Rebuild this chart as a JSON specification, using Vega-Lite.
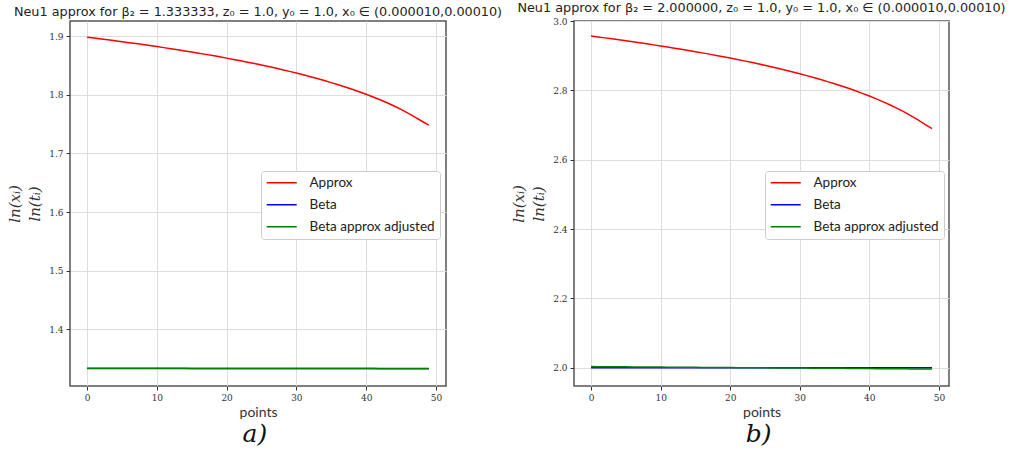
{
  "$schema": "https://vega.github.io/schema/vega-lite/v6.json",
  "background": "white",
  "padding": {"left": 6, "top": 1, "right": 0, "bottom": 5},
  "datasets": {
    "a": [
      {"x":0,"approx":1.8980,"beta":1.333333,"adj":1.3336},
      {"x":1,"approx":1.8965,"beta":1.333333,"adj":1.3336},
      {"x":2,"approx":1.8950,"beta":1.333333,"adj":1.3336},
      {"x":3,"approx":1.8935,"beta":1.333333,"adj":1.3336},
      {"x":4,"approx":1.8919,"beta":1.333333,"adj":1.3336},
      {"x":5,"approx":1.8903,"beta":1.333333,"adj":1.3336},
      {"x":6,"approx":1.8887,"beta":1.333333,"adj":1.3336},
      {"x":7,"approx":1.8871,"beta":1.333333,"adj":1.3335},
      {"x":8,"approx":1.8854,"beta":1.333333,"adj":1.3335},
      {"x":9,"approx":1.8837,"beta":1.333333,"adj":1.3335},
      {"x":10,"approx":1.8820,"beta":1.333333,"adj":1.3335},
      {"x":11,"approx":1.8802,"beta":1.333333,"adj":1.3335},
      {"x":12,"approx":1.8784,"beta":1.333333,"adj":1.3335},
      {"x":13,"approx":1.8765,"beta":1.333333,"adj":1.3335},
      {"x":14,"approx":1.8746,"beta":1.333333,"adj":1.3335},
      {"x":15,"approx":1.8727,"beta":1.333333,"adj":1.3334},
      {"x":16,"approx":1.8707,"beta":1.333333,"adj":1.3334},
      {"x":17,"approx":1.8687,"beta":1.333333,"adj":1.3334},
      {"x":18,"approx":1.8666,"beta":1.333333,"adj":1.3334},
      {"x":19,"approx":1.8645,"beta":1.333333,"adj":1.3334},
      {"x":20,"approx":1.8623,"beta":1.333333,"adj":1.3334},
      {"x":21,"approx":1.8600,"beta":1.333333,"adj":1.3334},
      {"x":22,"approx":1.8577,"beta":1.333333,"adj":1.3333},
      {"x":23,"approx":1.8554,"beta":1.333333,"adj":1.3333},
      {"x":24,"approx":1.8530,"beta":1.333333,"adj":1.3333},
      {"x":25,"approx":1.8505,"beta":1.333333,"adj":1.3333},
      {"x":26,"approx":1.8479,"beta":1.333333,"adj":1.3333},
      {"x":27,"approx":1.8453,"beta":1.333333,"adj":1.3333},
      {"x":28,"approx":1.8425,"beta":1.333333,"adj":1.3332},
      {"x":29,"approx":1.8397,"beta":1.333333,"adj":1.3332},
      {"x":30,"approx":1.8368,"beta":1.333333,"adj":1.3332},
      {"x":31,"approx":1.8338,"beta":1.333333,"adj":1.3332},
      {"x":32,"approx":1.8307,"beta":1.333333,"adj":1.3332},
      {"x":33,"approx":1.8275,"beta":1.333333,"adj":1.3332},
      {"x":34,"approx":1.8241,"beta":1.333333,"adj":1.3332},
      {"x":35,"approx":1.8206,"beta":1.333333,"adj":1.3331},
      {"x":36,"approx":1.8170,"beta":1.333333,"adj":1.3331},
      {"x":37,"approx":1.8132,"beta":1.333333,"adj":1.3331},
      {"x":38,"approx":1.8092,"beta":1.333333,"adj":1.3331},
      {"x":39,"approx":1.8051,"beta":1.333333,"adj":1.3331},
      {"x":40,"approx":1.8007,"beta":1.333333,"adj":1.3331},
      {"x":41,"approx":1.7961,"beta":1.333333,"adj":1.3331},
      {"x":42,"approx":1.7913,"beta":1.333333,"adj":1.3330},
      {"x":43,"approx":1.7862,"beta":1.333333,"adj":1.3330},
      {"x":44,"approx":1.7807,"beta":1.333333,"adj":1.3330},
      {"x":45,"approx":1.7749,"beta":1.333333,"adj":1.3330},
      {"x":46,"approx":1.7687,"beta":1.333333,"adj":1.3330},
      {"x":47,"approx":1.7619,"beta":1.333333,"adj":1.3330},
      {"x":48,"approx":1.7547,"beta":1.333333,"adj":1.3330},
      {"x":49,"approx":1.7480,"beta":1.333333,"adj":1.3330}
    ],
    "b": [
      {"x":0,"approx":2.9570,"beta":2.0,"adj":2.0030},
      {"x":1,"approx":2.9544,"beta":2.0,"adj":2.0029},
      {"x":2,"approx":2.9517,"beta":2.0,"adj":2.0027},
      {"x":3,"approx":2.9490,"beta":2.0,"adj":2.0026},
      {"x":4,"approx":2.9462,"beta":2.0,"adj":2.0024},
      {"x":5,"approx":2.9434,"beta":2.0,"adj":2.0023},
      {"x":6,"approx":2.9405,"beta":2.0,"adj":2.0021},
      {"x":7,"approx":2.9376,"beta":2.0,"adj":2.0020},
      {"x":8,"approx":2.9346,"beta":2.0,"adj":2.0019},
      {"x":9,"approx":2.9315,"beta":2.0,"adj":2.0017},
      {"x":10,"approx":2.9284,"beta":2.0,"adj":2.0016},
      {"x":11,"approx":2.9253,"beta":2.0,"adj":2.0014},
      {"x":12,"approx":2.9220,"beta":2.0,"adj":2.0013},
      {"x":13,"approx":2.9187,"beta":2.0,"adj":2.0011},
      {"x":14,"approx":2.9154,"beta":2.0,"adj":2.0010},
      {"x":15,"approx":2.9119,"beta":2.0,"adj":2.0009},
      {"x":16,"approx":2.9084,"beta":2.0,"adj":2.0007},
      {"x":17,"approx":2.9048,"beta":2.0,"adj":2.0006},
      {"x":18,"approx":2.9011,"beta":2.0,"adj":2.0004},
      {"x":19,"approx":2.8973,"beta":2.0,"adj":2.0003},
      {"x":20,"approx":2.8934,"beta":2.0,"adj":2.0001},
      {"x":21,"approx":2.8894,"beta":2.0,"adj":2.0000},
      {"x":22,"approx":2.8853,"beta":2.0,"adj":1.9999},
      {"x":23,"approx":2.8811,"beta":2.0,"adj":1.9997},
      {"x":24,"approx":2.8768,"beta":2.0,"adj":1.9996},
      {"x":25,"approx":2.8724,"beta":2.0,"adj":1.9994},
      {"x":26,"approx":2.8678,"beta":2.0,"adj":1.9993},
      {"x":27,"approx":2.8631,"beta":2.0,"adj":1.9991},
      {"x":28,"approx":2.8583,"beta":2.0,"adj":1.9990},
      {"x":29,"approx":2.8533,"beta":2.0,"adj":1.9989},
      {"x":30,"approx":2.8481,"beta":2.0,"adj":1.9987},
      {"x":31,"approx":2.8427,"beta":2.0,"adj":1.9986},
      {"x":32,"approx":2.8372,"beta":2.0,"adj":1.9984},
      {"x":33,"approx":2.8314,"beta":2.0,"adj":1.9983},
      {"x":34,"approx":2.8255,"beta":2.0,"adj":1.9981},
      {"x":35,"approx":2.8193,"beta":2.0,"adj":1.9980},
      {"x":36,"approx":2.8128,"beta":2.0,"adj":1.9979},
      {"x":37,"approx":2.8061,"beta":2.0,"adj":1.9977},
      {"x":38,"approx":2.7990,"beta":2.0,"adj":1.9976},
      {"x":39,"approx":2.7916,"beta":2.0,"adj":1.9974},
      {"x":40,"approx":2.7838,"beta":2.0,"adj":1.9973},
      {"x":41,"approx":2.7757,"beta":2.0,"adj":1.9971},
      {"x":42,"approx":2.7670,"beta":2.0,"adj":1.9970},
      {"x":43,"approx":2.7579,"beta":2.0,"adj":1.9969},
      {"x":44,"approx":2.7482,"beta":2.0,"adj":1.9967},
      {"x":45,"approx":2.7379,"beta":2.0,"adj":1.9966},
      {"x":46,"approx":2.7268,"beta":2.0,"adj":1.9964},
      {"x":47,"approx":2.7148,"beta":2.0,"adj":1.9963},
      {"x":48,"approx":2.7019,"beta":2.0,"adj":1.9961},
      {"x":49,"approx":2.6900,"beta":2.0,"adj":1.9960}
    ]
  },
  "hconcat": [
    {
      "title": {"text": "a)", "orient": "bottom", "font": "DejaVu Serif", "fontStyle": "italic", "fontSize": 25, "fontWeight": "normal", "color": "#111", "offset": 2},
      "vconcat": [
        {
          "width": 376,
          "height": 365,
          "title": {"text": "Neu1 approx for β₂ = 1.333333, z₀ = 1.0, y₀ = 1.0, x₀ ∈ (0.000010,0.00010)"},
          "data": {"name": "a"},
          "transform": [{"fold": ["approx", "beta", "adj"], "as": ["series", "value"]}],
          "mark": {"type": "line", "strokeWidth": 1.5},
          "encoding": {
            "x": {"field": "x", "type": "quantitative", "scale": {"domain": [-2.45, 51.45], "nice": false, "zero": false}, "axis": {"values": [0, 10, 20, 30, 40, 50], "title": "points"}},
            "y": {"field": "value", "type": "quantitative", "scale": {"domain": [1.3034, 1.9256], "nice": false, "zero": false}, "axis": {"values": [1.4, 1.5, 1.6, 1.7, 1.8, 1.9], "format": ".1f", "title": ["ln(xᵢ)", "ln(tᵢ)"]}},
            "color": {"field": "series", "type": "nominal", "scale": {"domain": ["approx", "beta", "adj"], "range": ["#ff0000", "#0000ff", "#008000"]}, "legend": {"title": null, "labelExpr": "datum.label == 'approx' ? 'Approx' : datum.label == 'beta' ? 'Beta' : 'Beta approx adjusted'"}}
          }
        }
      ]
    },
    {
      "title": {"text": "b)", "orient": "bottom", "font": "DejaVu Serif", "fontStyle": "italic", "fontSize": 25, "fontWeight": "normal", "color": "#111", "offset": 2},
      "vconcat": [
        {
          "width": 375,
          "height": 365,
          "title": {"text": "Neu1 approx for β₂ = 2.000000, z₀ = 1.0, y₀ = 1.0, x₀ ∈ (0.000010,0.00010)"},
          "data": {"name": "b"},
          "transform": [{"fold": ["approx", "beta", "adj"], "as": ["series", "value"]}],
          "mark": {"type": "line", "strokeWidth": 1.5},
          "encoding": {
            "x": {"field": "x", "type": "quantitative", "scale": {"domain": [-2.45, 51.45], "nice": false, "zero": false}, "axis": {"values": [0, 10, 20, 30, 40, 50], "title": "points"}},
            "y": {"field": "value", "type": "quantitative", "scale": {"domain": [1.947, 3.0004], "nice": false, "zero": false}, "axis": {"values": [2.0, 2.2, 2.4, 2.6, 2.8, 3.0], "format": ".1f", "title": ["ln(xᵢ)", "ln(tᵢ)"]}},
            "color": {"field": "series", "type": "nominal", "scale": {"domain": ["approx", "beta", "adj"], "range": ["#ff0000", "#0000ff", "#008000"]}, "legend": {"title": null, "labelExpr": "datum.label == 'approx' ? 'Approx' : datum.label == 'beta' ? 'Beta' : 'Beta approx adjusted'"}}
          }
        }
      ]
    }
  ],
  "spacing": 7,
  "resolve": {"scale": {"color": "independent"}, "legend": {"color": "independent"}},
  "config": {
    "view": {"stroke": "#555555", "strokeWidth": 1.5},
    "title": {"font": "DejaVu Sans", "fontSize": 12.8, "fontWeight": "normal", "color": "#222222", "offset": 2, "anchor": "middle"},
    "axis": {
      "grid": true, "gridColor": "#dddddd", "gridWidth": 1, "domain": false,
      "tickColor": "#333333", "tickSize": 4, "labelPadding": 3,
      "labelFont": "DejaVu Serif", "labelFontSize": 9, "labelColor": "#333333",
      "titleFont": "Lato", "titleFontSize": 14, "titleFontWeight": "normal", "titleColor": "#333333"
    },
    "axisX": {"titlePadding": 3},
    "axisY": {"titleFont": "DejaVu Serif", "titleFontStyle": "italic", "titleFontSize": 15, "titleLineHeight": 20, "titlePadding": 6, "titleColor": "#333333"},
    "legend": {
      "orient": "none", "legendX": 191, "legendY": 150,
      "fillColor": "white", "strokeColor": "#cccccc", "cornerRadius": 3, "padding": 5,
      "symbolType": "M-3,0H3", "symbolSize": 100, "symbolStrokeWidth": 1.5, "symbolOffset": 9,
      "labelFont": "Lato", "labelFontSize": 13.5, "labelColor": "#222222", "labelOffset": 21,
      "rowPadding": 7
    }
  }
}
